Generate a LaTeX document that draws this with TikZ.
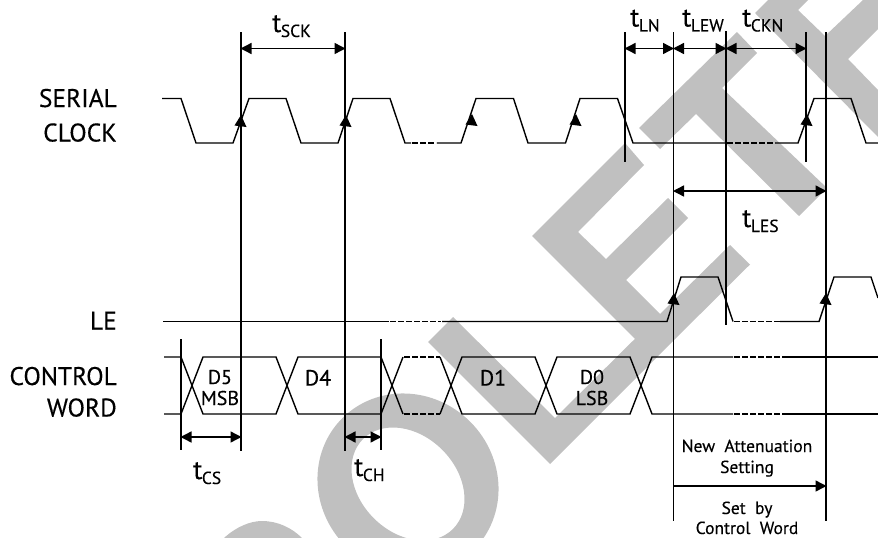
\documentclass[tikz,border=0pt]{standalone}
\usepackage{fontspec}
\setmainfont[FakeBold=0.35]{PT Sans}
\usetikzlibrary{arrows.meta}
\definecolor{wm}{HTML}{C0C0C0}
\newcommand{\tlab}[1]{{\fontsize{27}{27}\selectfont t}\kern-.5pt\raisebox{-5pt}{\fontsize{17.5}{17.5}\selectfont #1}}
\tikzset{
  sig/.style={line width=1.4pt,line join=miter},
  guide/.style={line width=1.4pt},
  gap/.style={line width=1.4pt,dash pattern=on 6pt off 2pt},
  dim/.style={line width=1.4pt,{Triangle[length=11pt,width=11pt]}-{Triangle[length=11pt,width=11pt]},shorten <=-.5pt,shorten >=-.5pt},
  one/.style={line width=1.4pt,-{Triangle[length=11pt,width=11pt]},shorten >=-.5pt},
  lab/.style={inner sep=0pt,anchor=base east,font=\fontsize{25.5}{25.5}\selectfont},
  tl/.style={inner sep=0pt,anchor=base west},
  dat/.style={inner sep=0pt,anchor=base,font=\fontsize{22}{22}\selectfont},
  datsmall/.style={inner sep=0pt,anchor=base,font=\fontsize{20}{20}\selectfont},
  note/.style={inner sep=0pt,anchor=base,font=\fontsize{17.5}{17.5}\selectfont},
  rise/.pic={\fill (0,0)--(-6.5,10.5)--(5.5,12)--cycle;}
}
\begin{document}
\begin{tikzpicture}[x=1pt,y=-1pt]
\useasboundingbox (0,0) rectangle (878,538);
\begin{scope}
\clip (0,0) rectangle (878,538);
% watermark
\fill[wm] (532,236)--(625,143)--(644,165)--(578,232)--(606,259)--(668,198)--(688,218)--(626,280)--(660,314)--(730,245)--(750,264.5)--(655,359)--cycle;
\fill[wm] (453,317)--(428,342)--(550,464)--(655,359)--(660,314)--(555,418)--cycle;
\fill[wm] (639,128)--(737,32)--(757,53)--(722,88)--(827,188)--(799,216)--(696,114)--(660,149)--cycle;
\fill[wm] (768,0)--(755,13)--(878,137)--(878,90)--(848,59)--(878,29)--(878,0)--(863,0)--(825,36)--(798,10)--(808,0)--cycle;
\fill[wm,even odd rule,shift={(408,484)},rotate=-45] (0,0) ellipse [x radius=93pt,y radius=88pt] (0,0) ellipse [x radius=63.6pt,y radius=48.4pt];
\fill[wm] (224,538) .. controls (236,527) and (250,521) .. (262,521) .. controls (278,521) and (292,528) .. (302,538) -- cycle;
% serial clock
\draw[sig] (162,98.5)--(181,98.5)--(196,143)--(233,143)--(249,98.5)--(286,98.5)--(301,143)--(338,143)--(353,98.5)--(390,98.5)--(405,143)--(411,143);
\draw[gap] (412,143)--(436,143);
\draw[sig] (437,143)--(461,143)--(476,98.5)--(513.5,98.5)--(528,143)--(565.5,143)--(580,98.5)--(617.5,98.5)--(633,143)--(727,143);
\draw[gap] (727,143)--(775,143);
\draw[sig] (775,143)--(798,143)--(814,98.5)--(851,98.5)--(866,143)--(878,143);
% LE
\draw[sig] (163,321.5)--(389,321.5);
\draw[gap] (390,321.5)--(441,321.5);
\draw[sig] (442,321.5)--(667,321.5)--(681,277)--(718,277)--(733,321.5);
\draw[gap] (734,321.5)--(780,321.5);
\draw[sig] (780,321.5)--(819,321.5)--(834,277)--(871,277)--(878,298);
% control word
\draw[sig] (164,357)--(181,357)--(203,414)--(276,414)--(298,357)--(381,357)--(403,414);
\draw[sig] (164,414)--(181,414)--(203,357)--(276,357)--(298,414)--(381,414)--(403,357);
\draw[gap] (404,357)--(440,357) (404,414)--(440,414);
\draw[sig] (440,357)--(462,414)--(535,414)--(557,357)--(630,357)--(652,414)--(733,414);
\draw[sig] (440,414)--(462,357)--(535,357)--(557,414)--(630,414)--(652,357)--(733,357);
\draw[gap] (734,357)--(785,357) (734,414)--(785,414);
\draw[sig] (785,357)--(878,357) (785,414)--(878,414);
% guides
\draw[guide] (241,32)--(241,451);
\draw[guide] (345,32)--(345,451);
\draw[guide] (625,32)--(625,162);
\draw[guide] (673.5,32)--(673.5,521);
\draw[guide] (726,31)--(726,325);
\draw[guide] (806,32)--(806,162);
\draw[guide] (826,32)--(826,521);
\draw[guide] (181,339)--(181,450);
\draw[guide] (381,339)--(381,450);
\end{scope}
% rising-edge arrows
\pic at (241,115) {rise};
\pic at (346,115) {rise};
\pic at (472,114) {rise};
\pic at (576,114) {rise};
\pic at (807,114) {rise};
\pic at (674,293) {rise};
\pic at (826,293) {rise};
% dimension arrows
\coordinate (sckL) at (241,48.5); \coordinate (sckR) at (345,48.5);
\coordinate (lnL) at (625,48.5); \coordinate (lnR) at (673.5,48.5);
\coordinate (lewR) at (726,48.5); \coordinate (cknR) at (806,48.5);
\coordinate (lesL) at (673.5,191); \coordinate (lesR) at (826,191);
\coordinate (csL) at (181,437); \coordinate (csR) at (241,437);
\coordinate (chL) at (345,437); \coordinate (chR) at (381,437);
\coordinate (natL) at (673.5,486); \coordinate (natR) at (826,486);
\draw[dim] (sckL)--(sckR);
\draw[dim] (lnL)--(lnR);
\draw[dim] (lnR)--(lewR);
\draw[dim] (lewR)--(cknR);
\draw[dim] (lesL)--(lesR);
\draw[dim] (csL)--(csR);
\draw[dim] (chL)--(chR);
\draw[one] (natL)--(natR);
% labels
\node[lab] (l1) at (117,107) {SERIAL};
\node[lab] (l2) at (117,141.5) {CLOCK};
\node[lab] (l3) at (117,329.5) {LE};
\node[lab] (l4) at (117,385) {CONTROL};
\node[lab] (l5) at (117,416.5) {WORD};
\node[tl] (t1) at (272,32) {\tlab{SCK}};
\node[tl] (t2) at (630,26.5) {\tlab{LN}};
\node[tl] (t3) at (682,26.5) {\tlab{LEW}};
\node[tl] (t4) at (742,26.5) {\tlab{CKN}};
\node[tl] (t5) at (742,227) {\tlab{LES}};
\node[tl] (t6) at (193,479) {\tlab{CS}};
\node[tl] (t7) at (354,476) {\tlab{CH}};
\node[datsmall] (d5) at (220,384) {D5};
\node[datsmall] (m) at (220,405) {MSB};
\node[dat] (d4) at (318,385.5) {D4};
\node[dat] (d1) at (493,385.5) {D1};
\node[datsmall] (d0) at (592,384) {D0};
\node[datsmall] (ls) at (592,405) {LSB};
\node[note] (n1) at (747,452) {New\ \ Attenuation};
\node[note] (n2) at (747,473) {Setting};
\node[note] (n3) at (747,514) {Set\ \ by};
\node[note] (n4) at (747,534) {Control\ \ Word};
\end{tikzpicture}
\end{document}
